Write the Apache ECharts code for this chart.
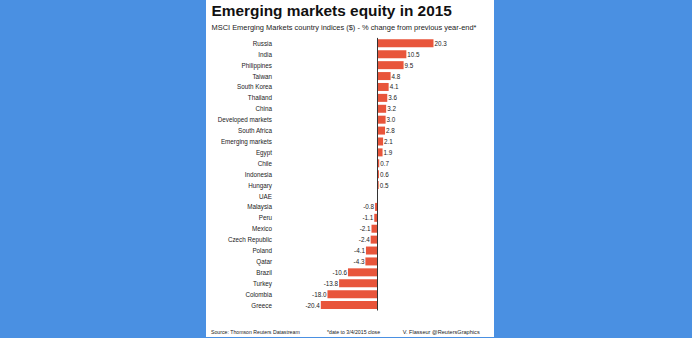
<!DOCTYPE html>
<html>
<head>
<meta charset="utf-8">
<script src="https://cdn.jsdelivr.net/npm/echarts@6/dist/echarts.min.js"></script>
<style>html,body{margin:0;padding:0;background:#4a90e2;}#c{width:692px;height:338px;}</style>
</head>
<body>
<div id="c"></div>
<script>
const categories = ["Russia","India","Philippines","Taiwan","South Korea","Thailand","China","Developed markets","South Africa","Emerging markets","Egypt","Chile","Indonesia","Hungary","UAE","Malaysia","Peru","Mexico","Czech Republic","Poland","Qatar","Brazil","Turkey","Colombia","Greece"];
const values = [20.3,10.5,9.5,4.8,4.1,3.6,3.2,3.0,2.8,2.1,1.9,0.7,0.6,0.5,null,-0.8,-1.1,-2.1,-2.4,-4.1,-4.3,-10.6,-13.8,-18.0,-20.4];
const titleText = "Emerging markets equity in 2015";
const subtitleText = "MSCI Emerging Markets country indices ($) - % change from previous year-end*";
const footerSource = "Source: Thomson Reuters Datastream";
const footerNote = "*date to 3/4/2015 close";
const footerCredit = "V. Flasseur @ReutersGraphics";

const FONT = "'Liberation Sans', Arial, sans-serif";
const chart = echarts.init(document.getElementById('c'), null, {renderer: 'svg'});
const barData = values.map(v => v === null ? {value: null} : {
  value: v,
  label: {position: v < 0 ? 'left' : 'right'}
});
chart.setOption({
  backgroundColor: '#4a90e2',
  animation: false,
  graphic: [
    {type: 'rect', z: -100, shape: {x: 206, y: 0, width: 288, height: 337}, style: {fill: '#ffffff'}},
    {type: 'text', z: 100, x: 211.5, y: 10.8, style: {text: titleText, fill: '#111', font: 'bold 15.4px ' + FONT, verticalAlign: 'middle', align: 'left'}},
    {type: 'text', z: 100, x: 211.5, y: 27, style: {text: subtitleText, fill: '#222', font: '7.45px ' + FONT, verticalAlign: 'middle', align: 'left'}},
    {type: 'text', z: 100, x: 211, y: 332, style: {text: footerSource, fill: '#222', font: '5.2px ' + FONT, verticalAlign: 'middle', align: 'left'}},
    {type: 'text', z: 100, x: 327, y: 332, style: {text: footerNote, fill: '#222', font: '5.2px ' + FONT, verticalAlign: 'middle', align: 'left'}},
    {type: 'text', z: 100, x: 402.7, y: 332, style: {text: footerCredit, fill: '#222', font: '5.6px ' + FONT, verticalAlign: 'middle', align: 'left'}}
  ],
  grid: {left: 316.4, right: 253.8, top: 37.9, height: 272.6, containLabel: false},
  xAxis: {
    type: 'value', min: -22, max: 22,
    axisLine: {show: false}, axisTick: {show: false}, axisLabel: {show: false}, splitLine: {show: false}
  },
  yAxis: {
    type: 'category', data: categories, inverse: true,
    axisLine: {show: false}, axisTick: {show: false},
    axisLabel: {fontSize: 6.3, color: '#222', margin: 44.4, fontFamily: FONT}
  },
  series: [{
    type: 'bar',
    data: barData,
    barWidth: 8,
    itemStyle: {color: '#e8553b'},
    label: {
      show: true, distance: 1, fontSize: 6.3, color: '#222', fontFamily: FONT,
      formatter: p => (p.value === null || p.value === undefined) ? '' : Number(p.value).toFixed(1)
    },
    markLine: {
      silent: true, symbol: ['none', 'none'],
      lineStyle: {color: '#333', width: 1, type: 'solid'},
      label: {show: false},
      data: [{xAxis: 0}]
    }
  }]
});
</script>
</body>
</html>
